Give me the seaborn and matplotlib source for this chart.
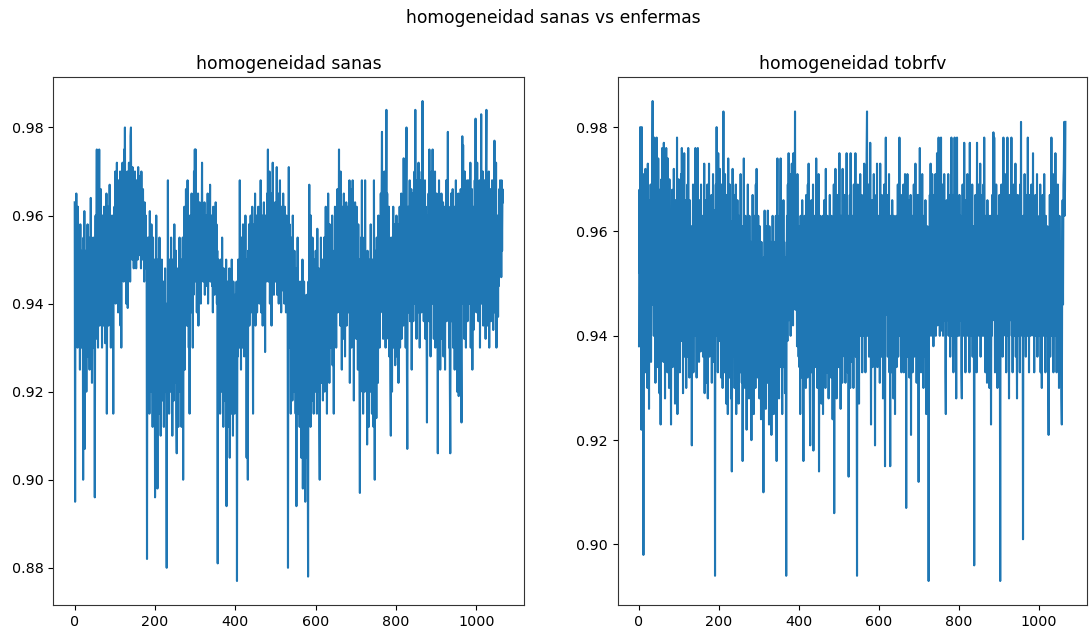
import numpy as np
import pandas as pd
import matplotlib
matplotlib.use("Agg")
import matplotlib.pyplot as plt
import seaborn as sns

suptitle = "homogeneidad sanas vs enfermas"
title_left = "homogeneidad sanas"
title_right = "homogeneidad tobrfv"

# homogeneity values (x1000), one per image index
sanas_x1000 = [
963, 895, 958, 940, 965, 945, 950, 930, 962, 944, 955, 935, 948, 925, 958, 940, 952, 930, 946, 938,
950, 900, 955, 930, 961, 907, 945, 935, 952, 920, 948, 940, 958, 928, 950, 938, 945, 925, 955, 942,
964, 935, 950, 922, 946, 938, 955, 930, 948, 940, 896, 945, 960, 932, 952, 975, 940, 955, 930, 972,
948, 975, 935, 958, 945, 966, 938, 952, 930, 960, 944, 955, 935, 962, 940, 950, 931, 958, 946, 965,
915, 950, 940, 962, 935, 955, 945, 967, 938, 952, 930, 958, 944, 960, 936, 950, 915, 956, 942, 962,
948, 970, 940, 965, 952, 972, 945, 960, 938, 968, 950, 962, 942, 970, 935, 958, 930, 966, 948, 972,
952, 968, 945, 975, 955, 980, 948, 966, 940, 962, 950, 970, 939, 958, 947, 972, 952, 965, 945, 978,
980, 955, 968, 950, 971, 953, 962, 948, 966, 955, 970, 951, 960, 948, 968, 956, 963, 950, 971, 954,
965, 951, 969, 955, 962, 948, 970, 953, 960, 950, 966, 952, 958, 945, 963, 955, 950, 960, 948, 955,
882, 950, 935, 955, 925, 945, 915, 961, 930, 948, 920, 958, 928, 940, 912, 955, 932, 945, 918, 950,
896, 945, 925, 960, 930, 942, 898, 950, 922, 938, 915, 955, 928, 945, 910, 940, 925, 950, 918, 935,
922, 945, 912, 938, 930, 948, 920, 940, 915, 880, 935, 925, 968, 930, 945, 915, 950, 928, 940, 920,
955, 925, 945, 910, 950, 930, 940, 918, 958, 922, 945, 930, 952, 915, 906, 940, 925, 948, 912, 945,
930, 955, 920, 945, 935, 950, 912, 942, 928, 955, 900, 948, 930, 962, 925, 945, 935, 966, 940, 952,
935, 968, 942, 958, 930, 950, 915, 960, 940, 955, 938, 965, 945, 952, 930, 960, 942, 970, 948, 975,
950, 975, 945, 962, 938, 955, 948, 965, 935, 958, 950, 963, 945, 955, 940, 960, 952, 972, 948, 962,
945, 958, 950, 963, 942, 955, 948, 960, 944, 957, 950, 965, 940, 952, 946, 962, 951, 967, 945, 956,
948, 960, 944, 955, 938, 962, 950, 958, 942, 954, 947, 963, 945, 958, 940, 952, 881, 950, 935, 948,
925, 945, 915, 950, 930, 940, 920, 955, 928, 942, 912, 948, 925, 938, 918, 945, 930, 950, 894, 940,
920, 945, 912, 938, 928, 948, 905, 940, 922, 935, 915, 950, 925, 940, 910, 945, 928, 938, 915, 942,
925, 935, 918, 945, 877, 940, 928, 950, 935, 945, 930, 968, 938, 950, 925, 955, 940, 948, 930, 958,
935, 955, 928, 945, 938, 960, 930, 950, 905, 948, 935, 900, 952, 940, 958, 935, 950, 942, 960, 938,
955, 940, 962, 945, 915, 950, 938, 958, 942, 965, 935, 952, 945, 960, 938, 955, 942, 962, 948, 958,
940, 955, 945, 968, 938, 952, 944, 960, 935, 958, 948, 963, 940, 955, 929, 960, 945, 958, 950, 965,
950, 975, 945, 962, 952, 970, 940, 958, 948, 965, 935, 955, 945, 972, 950, 960, 942, 958, 948, 963,
945, 960, 950, 971, 942, 955, 948, 965, 940, 958, 952, 968, 944, 955, 938, 962, 950, 958, 943, 965,
948, 958, 940, 962, 945, 955, 938, 960, 950, 952, 945, 880, 950, 971, 940, 958, 930, 950, 915, 955,
925, 950, 918, 960, 935, 945, 920, 952, 930, 940, 915, 948, 894, 945, 925, 955, 915, 940, 922, 935,
912, 945, 920, 935, 905, 940, 915, 950, 898, 930, 910, 945, 920, 938, 895, 935, 918, 942, 905, 930,
915, 878, 945, 925, 967, 930, 950, 912, 960, 935, 945, 918, 955, 928, 940, 915, 950, 930, 945, 920,
952, 925, 945, 915, 957, 930, 940, 920, 948, 912, 900, 945, 930, 955, 922, 940, 935, 950, 918, 945,
928, 955, 920, 948, 938, 962, 926, 945, 915, 952, 933, 965, 940, 950, 922, 958, 942, 948, 930, 955,
936, 960, 926, 950, 938, 915, 952, 935, 962, 945, 955, 930, 960, 944, 966, 938, 958, 946, 975, 940,
960, 935, 970, 946, 958, 925, 962, 942, 955, 932, 965, 948, 960, 928, 958, 950, 963, 935, 955, 944,
962, 938, 958, 946, 968, 922, 955, 944, 966, 930, 958, 948, 968, 936, 955, 918, 960, 944, 963, 935,
955, 932, 962, 940, 950, 925, 958, 936, 950, 920, 897, 945, 920, 955, 934, 968, 926, 950, 915, 945,
930, 955, 920, 968, 936, 950, 925, 945, 908, 952, 922, 940, 912, 950, 930, 945, 920, 958, 926, 942,
915, 950, 930, 945, 912, 968, 934, 900, 952, 925, 945, 914, 955, 930, 948, 922, 960, 936, 952, 930,
958, 940, 965, 944, 960, 979, 938, 962, 932, 958, 945, 970, 938, 955, 930, 962, 984, 944, 965, 938,
958, 932, 962, 928, 950, 940, 922, 910, 955, 934, 920, 952, 940, 962, 930, 955, 936, 958, 926, 950,
940, 960, 928, 952, 934, 958, 922, 955, 940, 962, 930, 950, 938, 965, 932, 955, 944, 960, 935, 973,
945, 962, 938, 958, 930, 965, 980, 928, 907, 950, 962, 938, 958, 946, 968, 936, 960, 944, 966, 925,
958, 942, 965, 936, 962, 946, 970, 940, 984, 944, 960, 932, 968, 950, 962, 938, 972, 946, 965, 930,
968, 948, 962, 938, 970, 952, 986, 945, 965, 936, 960, 948, 968, 932, 962, 944, 935, 913, 955, 960,
944, 965, 936, 975, 948, 968, 928, 962, 950, 970, 940, 975, 944, 965, 932, 960, 946, 970, 930, 958,
942, 965, 935, 955, 906, 958, 938, 968, 944, 962, 925, 955, 940, 965, 932, 958, 945, 963, 928, 956,
940, 962, 925, 958, 944, 968, 936, 960, 946, 979, 938, 962, 930, 955, 922, 906, 945, 965, 936, 958,
944, 966, 930, 958, 940, 962, 925, 955, 938, 968, 946, 960, 920, 955, 940, 965, 919, 958, 936, 962,
944, 966, 928, 913, 955, 978, 940, 976, 946, 965, 932, 970, 944, 962, 930, 958, 946, 968, 936, 960,
950, 968, 940, 962, 944, 972, 930, 960, 946, 966, 925, 958, 944, 934, 962, 938, 968, 946, 982, 940,
965, 938, 972, 948, 962, 936, 958, 944, 968, 930, 960, 946, 983, 940, 966, 948, 970, 935, 962, 938,
968, 944, 960, 932, 972, 984, 940, 965, 935, 962, 948, 970, 930, 960, 944, 966, 936, 958, 945, 968,
942, 962, 934, 968, 948, 977, 938, 962, 944, 972, 930, 958, 942, 960, 937, 958, 944, 966, 948, 968,
955, 965, 946, 968, 952, 966, 963,
]

tobrfv_x1000 = [
938, 968, 952, 980, 958, 975, 922, 980, 962, 944, 971, 898, 958, 936, 966, 950, 972, 933, 960, 947,
964, 930, 973, 948, 957, 926, 966, 951, 941, 969, 935, 958, 950, 972, 985, 946, 976, 940, 978, 954,
971, 931, 963, 948, 978, 940, 962, 934, 974, 952, 957, 929, 968, 946, 923, 957, 970, 938, 976, 949,
966, 935, 977, 946, 961, 928, 972, 950, 976, 939, 958, 933, 974, 948, 964, 930, 970, 952, 961, 940,
923, 960, 944, 968, 934, 963, 948, 972, 939, 958, 927, 966, 950, 961, 936, 978, 925, 956, 941, 970,
948, 964, 933, 958, 945, 971, 939, 976, 951, 961, 929, 967, 947, 975, 936, 959, 944, 966, 930, 962,
947, 969, 936, 976, 945, 958, 932, 966, 934, 953, 941, 961, 919, 956, 944, 969, 933, 959, 948, 966,
940, 976, 947, 963, 932, 971, 944, 976, 950, 960, 935, 966, 946, 958, 937, 969, 941, 955, 944, 963,
936, 959, 944, 973, 929, 956, 940, 966, 931, 961, 947, 969, 928, 958, 943, 973, 936, 955, 946, 963,
940, 967, 931, 958, 946, 971, 935, 955, 943, 964, 894, 955, 969, 940, 980, 947, 963, 933, 975, 944,
966, 939, 972, 946, 958, 932, 969, 949, 961, 930, 955, 983, 943, 963, 933, 971, 940, 958, 927, 967,
946, 961, 925, 974, 940, 958, 932, 969, 946, 962, 928, 955, 914, 947, 972, 936, 961, 943, 967, 930,
956, 939, 969, 925, 958, 934, 966, 946, 955, 927, 963, 940, 958, 933, 971, 944, 955, 931, 961, 916,
948, 934, 974, 940, 958, 930, 963, 946, 955, 922, 961, 937, 969, 941, 955, 928, 963, 944, 958, 933,
952, 920, 958, 940, 967, 933, 955, 925, 963, 944, 950, 930, 969, 941, 972, 947, 958, 932, 963, 940,
955, 928, 961, 937, 950, 924, 958, 940, 952, 931, 947, 910, 955, 935, 964, 941, 958, 926, 961, 940,
949, 931, 964, 937, 955, 923, 961, 944, 952, 928, 958, 921, 949, 934, 963, 941, 955, 925, 958, 934,
950, 940, 963, 931, 916, 955, 974, 937, 958, 946, 928, 963, 940, 956, 974, 934, 958, 943, 925, 955,
940, 966, 934, 958, 946, 929, 955, 943, 894, 952, 963, 939, 969, 946, 975, 943, 961, 949, 971, 940,
963, 945, 973, 951, 966, 942, 975, 948, 961, 952, 983, 945, 969, 950, 963, 938, 971, 947, 958, 936,
961, 934, 955, 925, 963, 942, 958, 932, 966, 946, 940, 916, 955, 936, 963, 943, 958, 930, 967, 940,
955, 932, 969, 943, 973, 938, 958, 930, 919, 955, 940, 966, 933, 958, 946, 969, 918, 952, 939, 963,
934, 958, 945, 974, 940, 961, 930, 955, 943, 971, 914, 952, 934, 963, 944, 958, 927, 955, 940, 963,
925, 955, 937, 966, 943, 958, 930, 972, 940, 955, 933, 963, 946, 958, 928, 961, 943, 967, 936, 955,
932, 963, 940, 958, 924, 955, 944, 969, 906, 952, 936, 972, 940, 958, 928, 961, 946, 967, 934, 955,
940, 975, 934, 958, 926, 963, 944, 955, 931, 972, 940, 958, 946, 967, 936, 955, 931, 963, 946, 975,
940, 958, 933, 963, 913, 955, 944, 967, 930, 975, 946, 958, 935, 963, 943, 955, 930, 969, 940, 958,
946, 975, 936, 963, 943, 894, 955, 969, 940, 961, 927, 958, 946, 971, 940, 963, 948, 967, 933, 958,
946, 966, 940, 973, 949, 961, 933, 969, 946, 975, 983, 940, 963, 946, 969, 936, 958, 943, 977, 947,
923, 955, 940, 966, 934, 961, 944, 971, 936, 955, 919, 958, 946, 967, 940, 973, 934, 958, 946, 963,
940, 961, 931, 973, 946, 955, 936, 967, 943, 958, 928, 963, 946, 969, 940, 915, 955, 978, 944, 961,
946, 967, 936, 958, 943, 971, 933, 955, 915, 963, 943, 958, 933, 966, 946, 955, 928, 963, 943, 958,
925, 955, 940, 963, 934, 958, 946, 969, 936, 961, 943, 978, 940, 958, 946, 967, 933, 963, 943, 955,
940, 969, 933, 958, 946, 971, 940, 963, 907, 955, 943, 971, 936, 958, 946, 966, 932, 961, 943, 967,
921, 955, 940, 963, 933, 958, 946, 969, 936, 955, 943, 973, 940, 958, 931, 963, 946, 967, 940, 912,
955, 936, 976, 946, 963, 933, 958, 943, 971, 940, 955, 930, 963, 946, 958, 936, 966, 943, 925, 955,
940, 961, 933, 955, 893, 958, 943, 967, 946, 973, 940, 963, 948, 971, 943, 958, 938, 967, 946, 963,
943, 971, 940, 961, 948, 975, 942, 963, 946, 978, 943, 966, 940, 958, 948, 978, 941, 961, 946, 969,
940, 963, 946, 971, 943, 958, 933, 925, 955, 966, 943, 961, 948, 971, 940, 958, 946, 967, 936, 963,
946, 978, 940, 961, 948, 967, 933, 963, 951, 978, 943, 963, 946, 928, 955, 978, 940, 963, 946, 958,
940, 967, 946, 963, 943, 955, 933, 928, 955, 969, 946, 963, 940, 977, 948, 958, 933, 966, 946, 963,
943, 971, 940, 958, 948, 967, 933, 977, 946, 963, 940, 958, 946, 969, 936, 961, 943, 955, 896, 958,
940, 967, 946, 963, 933, 977, 943, 958, 948, 969, 940, 961, 946, 973, 936, 958, 946, 967, 940, 963,
946, 969, 940, 978, 948, 961, 933, 963, 943, 955, 931, 966, 946, 958, 940, 963, 930, 955, 946, 963,
923, 955, 940, 967, 946, 963, 979, 943, 978, 955, 933, 963, 946, 969, 940, 958, 930, 963, 946, 955,
940, 967, 946, 893, 958, 940, 969, 946, 963, 936, 955, 978, 943, 961, 948, 971, 940, 958, 933, 963,
946, 978, 940, 958, 948, 928, 955, 967, 943, 963, 946, 978, 940, 955, 933, 963, 946, 969, 940, 958,
946, 973, 936, 961, 943, 928, 955, 967, 940, 958, 946, 963, 933, 969, 943, 981, 946, 963, 940, 955,
901, 955, 963, 940, 971, 946, 958, 936, 967, 946, 963, 940, 978, 948, 958, 933, 967, 946, 961, 940,
955, 969, 943, 963, 946, 975, 940, 958, 933, 963, 946, 967, 940, 958, 948, 971, 936, 961, 946, 955,
940, 963, 946, 969, 933, 958, 946, 930, 955, 967, 943, 963, 940, 971, 946, 958, 933, 963, 943, 955,
940, 961, 946, 933, 921, 955, 943, 967, 936, 961, 946, 978, 940, 963, 948, 971, 933, 958, 946, 967,
940, 975, 946, 963, 933, 958, 946, 969, 940, 955, 930, 963, 946, 936, 958, 940, 928, 923, 955, 966,
946, 969, 972, 981, 963, 968, 981,
]

df_sanas = pd.DataFrame({"idx": np.arange(len(sanas_x1000)),
                         "homog": np.array(sanas_x1000) / 1000.0})
df_tob = pd.DataFrame({"idx": np.arange(len(tobrfv_x1000)),
                       "homog": np.array(tobrfv_x1000) / 1000.0})

plt.rcParams["font.family"] = ["DejaVu Sans"]
fig = plt.figure(figsize=(10.9, 6.32), dpi=100)
ax1 = fig.add_axes([0.0489, 0.0427, 0.4321, 0.8354])
ax2 = fig.add_axes([0.5667, 0.0427, 0.4303, 0.8354])

line_color = "#1f77b4"
for ax, df, ttl in [(ax1, df_sanas, title_left), (ax2, df_tob, title_right)]:
    sns.lineplot(data=df, x="idx", y="homog", ax=ax, color=line_color,
                 linewidth=1.5, estimator=None, sort=False)
    ax.set_title(ttl, fontsize=12.4)
    ax.set_xlabel("")
    ax.set_ylabel("")
    ax.tick_params(labelsize=10.3)
    ax.set_xticks([0, 200, 400, 600, 800, 1000])
    for s in ax.spines.values():
        s.set_color("#333333")
        s.set_linewidth(0.8)

fig.text(0.5073, 0.9715, suptitle, ha="center", va="center", fontsize=12.3)
fig.savefig("out.png", dpi=100)
